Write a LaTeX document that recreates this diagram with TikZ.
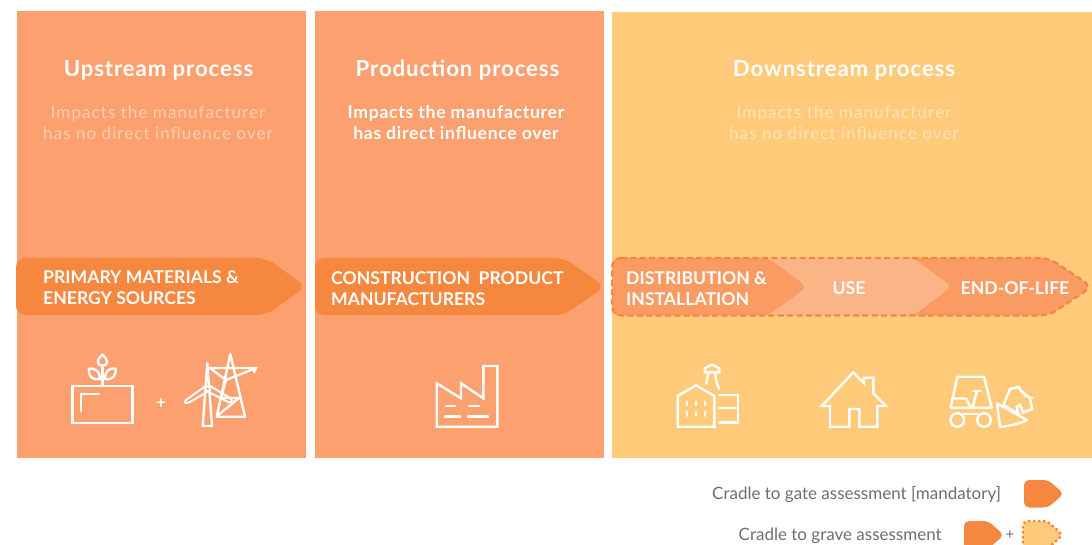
\documentclass[tikz,border=0pt]{standalone}
\usepackage{fontspec}
\setmainfont{Lato}
\newfontfamily\spaced[LetterSpace=4]{Lato}
\newfontfamily\spacedlight[LetterSpace=6]{Lato}
\definecolor{panelA}{HTML}{FBA06E}
\definecolor{panelB}{HTML}{FFCB7A}
\definecolor{tagc}{HTML}{F5873F}
\definecolor{segA}{HTML}{F99B63}
\definecolor{segB}{HTML}{FBB485}
\definecolor{fadeA}{HTML}{FFCDB2}
\definecolor{fadeB}{HTML}{FFE4B8}
\definecolor{legtxt}{HTML}{6E6E6E}
\newcommand{\tagpath}[5]{(#1,#2) -- (#5,#2) -- (#3,{(#2+#4)/2}) -- (#5,#4) -- (#1,#4) -- cycle}
\tikzset{
  heading/.style={text=white,font=\fontsize{22.2}{24}\selectfont\bfseries\spaced,anchor=center,inner sep=0pt},
  sub/.style={font=\fontsize{17.1}{21}\selectfont\spacedlight,align=center,anchor=center,inner sep=0pt},
  tagtext/.style={text=white,font=\fontsize{17.6}{21}\selectfont\bfseries,align=left,anchor=west,inner sep=0pt},
  icon/.style={draw=white,line width=2.4pt,line join=miter,line cap=round},
  legend/.style={text=legtxt,font=\fontsize{17}{19}\selectfont,anchor=west,inner sep=0pt}
}
\begin{document}
\begin{tikzpicture}[x=1pt,y=-1pt]
\useasboundingbox (0,0) rectangle (1092,545);
\clip (0,0) rectangle (1092,545);
% panels
\fill[panelA] (17,11) rectangle (306,458);
\fill[panelA] (315,11) rectangle (604,458);
\fill[panelB] (612,12) rectangle (1092,458);
% headings
\node[heading] (h1) at (158.5,70) {Upstream process};
\node[heading] (h2) at (457.5,70) {Production process};
\node[heading] (h3) at (844,70) {Downstream process};
\node[sub,text=fadeA] (s1) at (158,122.5) {Impacts the manufacturer\\has no direct influence over};
\node[sub,text=white,font=\fontsize{17.6}{21}\selectfont\bfseries\spaced] (s2) at (456,122.5) {Impacts the manufacturer\\has direct influence over};
\node[sub,text=fadeB] (s3) at (844,122.5) {Impacts the manufacturer\\has no direct influence over};
% tags
\fill[tagc,rounded corners=9pt] \tagpath{16}{258}{306}{315}{266};
\fill[tagc,rounded corners=9pt] \tagpath{315}{258}{605}{315}{564};
\node[tagtext] (t1) at (43,288) {PRIMARY MATERIALS \&\\ENERGY SOURCES};
\node[tagtext] (t2) at (331,288.5) {CONSTRUCTION\ \ PRODUCT\\MANUFACTURERS};
% lifecycle
\fill[segA,rounded corners=9pt] \tagpath{900}{258}{1092}{315.5}{1049};
\fill[segB,rounded corners=7pt] \tagpath{760}{258}{952}{315.5}{913};
\fill[segA,rounded corners=7pt] \tagpath{612}{258}{807}{315.5}{768};
\draw[tagc,line width=2.2pt,dash pattern=on 6pt off 3.4pt,rounded corners=9pt] \tagpath{612}{258}{1092}{315.5}{1049};
\node[tagtext] (t3) at (626,289) {DISTRIBUTION \&\\INSTALLATION};
\node[tagtext,anchor=center] (t4) at (849,288.5) {USE};
\node[tagtext,anchor=center] (t5) at (1015,288.5) {END-OF-LIFE};
% plant icon
\draw[icon,line join=miter] (72.5,386) rectangle (132.5,422.7);
\draw[icon] (80.7,411.5) -- (80.7,394) -- (99,394);
\draw[icon] (102.3,386) -- (102.3,367);
\draw[icon,line join=round] (102.4,354.5) .. controls (99,358) and (97.5,360) .. (97.7,362) .. controls (98,367) and (107,367) .. (107.2,362) .. controls (107.4,360) and (105.5,358) .. (102.4,354.5);
\draw[icon,line join=round] (89,368.5) .. controls (96,368) and (100,372) .. (100,379) .. controls (92,380.5) and (88,376) .. (89,368.5);
\draw[icon,line join=round] (115.5,368.5) .. controls (108,368) and (105,372) .. (105,379) .. controls (112,380.5) and (116.5,376) .. (115.5,368.5);
\node[text=white,font=\fontsize{17}{17}\selectfont\bfseries,inner sep=0pt] (plus) at (161,404) {+};
% turbine and pylon
\draw[icon,line join=round] (202.7,426) -- (207.3,363) -- (212,426) -- cycle;
\draw[icon,line join=round] (230.3,354) -- (216.7,416.7) -- (245,416.7) -- cycle;
\draw[icon] (210,368) -- (256,368) -- (254,372);
\draw[icon] (210,368) -- (226,380) -- (256,368);
\draw[icon] (226,380) -- (221,398);
\draw[icon] (221,398) -- (239,398) -- (217,416);
\fill[panelA] (207.7,388.7) circle (3);
\draw[icon,line width=2pt,line join=round] (205.5,386) -- (186,400) .. controls (183,403) and (186,404) .. (190,402) -- (207,392);
\draw[icon,line width=2pt,line join=round] (210,386) -- (230,398) .. controls (233,401) and (232,403) .. (228,402) -- (208.5,392);
\draw[icon,line width=1.8pt] (207.7,388.7) circle (2.3);
% factory
\draw[icon,line join=miter] (436.7,426.7) -- (436.7,383.3) -- (461,398.3) -- (461,383.3) -- (483.3,398.3) -- (483.3,366) -- (497.3,366) -- (497.3,426.7) -- cycle;
\draw[icon] (446,406) -- (455,406);
\draw[icon] (469,406) -- (479,406);
\draw[icon] (445,416.3) -- (460,416.3);
\draw[icon] (468,416.3) -- (488,416.3);
% building
\draw[icon] (677.7,426.7) -- (677.7,396) -- (696,385.3) -- (714.3,396) -- (714.3,426.7) -- cycle;
\draw[icon] (719,395) -- (737.7,395) -- (737.7,422.3) -- (719,422.3);
\draw[icon] (719,407.7) -- (737.7,407.7);
\foreach \wx in {686.7,696,705.3}{
  \draw[icon,line width=1.8pt] (\wx,401.5) -- (\wx,405.3);
  \draw[icon,line width=1.8pt] (\wx,412) -- (\wx,416);
}
\draw[icon] (704.7,372.3) -- (704.7,368.3) -- (712,364.7) -- (719.3,368.3) -- (719.3,372.3) -- cycle;
\draw[icon] (708.3,373) -- (706.3,383.3);
\draw[icon] (715,373) -- (716.7,383.3) -- (719.3,388.7);
% house
\draw[icon] (821.7,406) -- (853.3,372.3) -- (864,383.3) -- (864,377.7) -- (873.3,377.7) -- (873.3,393.3) -- (886,406) -- (877.3,406) -- (877.3,426.7) -- (859.3,426.7) -- (859.3,409) -- (849.3,409) -- (849.3,426.7) -- (830,426.7) -- (830,406) -- cycle;
% loader
\draw[icon,line join=round] (950.7,407.7) -- (957.3,376.7) -- (984,376.7) -- (991.7,407.7) -- cycle;
\draw[icon] (952,398.5) -- (966,398.5) -- (971,408);
\draw[icon] (973.5,390.7) -- (981,390.7);
\draw[icon] (977,391) -- (972.5,407);
\draw[icon] (963.5,414) -- (977.5,414);
\draw[icon] (957.3,420) circle (6.8);
\draw[icon] (984,420) circle (6.8);
\draw[icon,line join=round] (997,403.5) -- (1000,427) .. controls (1010,426) and (1022,423) .. (1027,420) -- cycle;
\draw[icon,line join=miter] (1003.5,405) -- (1010,389) -- (1019,387) -- (1021,391) -- (1030,398) -- (1032,409) -- (1023,412.5) -- (1020,405) -- (1016.5,407) -- (1018.5,414) -- cycle;
\draw[icon,line width=1.6pt] (1024,396) -- (1033,398);
% legend
\node[legend] (l1) at (712,495) {Cradle to gate assessment [mandatory]};
\node[legend] (l2) at (738.5,536) {Cradle to grave assessment};
\fill[tagc,rounded corners=5pt] \tagpath{1024}{480}{1064}{507.5}{1048};
\fill[tagc,rounded corners=5pt] \tagpath{964}{521}{1004}{549}{988};
\node[legend,anchor=center,font=\fontsize{15}{15}\selectfont] (lp) at (1010,535) {+};
\fill[panelB,rounded corners=5pt] \tagpath{1023}{521}{1063}{549}{1047};
\draw[tagc,line width=2.4pt,dash pattern=on 2.4pt off 2.6pt,rounded corners=5pt] \tagpath{1023}{521}{1063}{549}{1047};
\end{tikzpicture}
\end{document}
